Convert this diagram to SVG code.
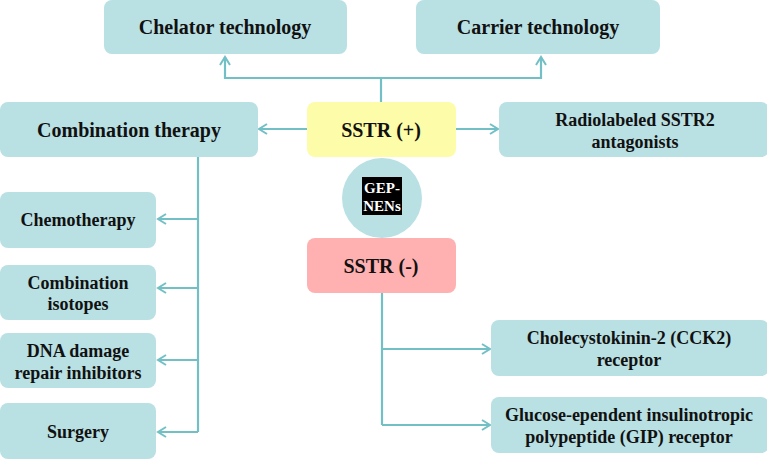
<svg xmlns="http://www.w3.org/2000/svg" width="767" height="459" viewBox="0 0 767 459">
<style>
.box{fill:#b9e0e3;}
.t{font-family:"Liberation Serif","Times New Roman",serif;font-weight:bold;fill:#111;text-anchor:middle;}
.l{font-size:20px;}
.s{font-size:18px;}
.c{fill:none;stroke:#72c0c6;stroke-width:2.2;}
</style>
<defs>
<marker id="a" viewBox="0 0 12 12" refX="10" refY="6" markerWidth="12" markerHeight="12" markerUnits="userSpaceOnUse" orient="auto">
<polyline points="2,1 10,6 2,11" fill="none" stroke="#72c0c6" stroke-width="2"/>
</marker>
</defs>
<rect width="767" height="459" fill="#fff"/>
<g id="connectors">
<polyline class="c" points="381,102 381,78 225,78 225,57" marker-end="url(#a)"/>
<polyline class="c" points="381,78 541,78 541,57" marker-end="url(#a)"/>
<line class="c" x1="307" y1="129" x2="259" y2="129" marker-end="url(#a)"/>
<line class="c" x1="456" y1="129" x2="498" y2="129" marker-end="url(#a)"/>
<line class="c" x1="198" y1="157" x2="198" y2="432"/>
<line class="c" x1="198" y1="219" x2="158" y2="219" marker-end="url(#a)"/>
<line class="c" x1="198" y1="288" x2="158" y2="288" marker-end="url(#a)"/>
<line class="c" x1="198" y1="360" x2="158" y2="360" marker-end="url(#a)"/>
<line class="c" x1="198" y1="432" x2="158" y2="432" marker-end="url(#a)"/>
<line class="c" x1="382" y1="293" x2="382" y2="425"/>
<line class="c" x1="382" y1="349" x2="490" y2="349" marker-end="url(#a)"/>
<line class="c" x1="382" y1="425" x2="490" y2="425" marker-end="url(#a)"/>
</g>
<g id="chelator"><rect class="box" x="104" y="0" width="243" height="54" rx="8"/><text class="t l" x="225" y="34">Chelator technology</text></g>
<g id="carrier"><rect class="box" x="416" y="0" width="244" height="54" rx="8"/><text class="t l" x="538" y="34">Carrier technology</text></g>
<g id="combination"><rect class="box" x="0" y="102" width="258" height="55" rx="8"/><text class="t l" x="129" y="137">Combination therapy</text></g>
<g id="sstr-pos"><rect x="307" y="102" width="149" height="55" rx="8" fill="#fdfca8"/><text class="t l" x="381" y="137">SSTR (+)</text></g>
<g id="radiolabeled"><rect class="box" x="499" y="102" width="270" height="55" rx="8"/><text class="t s" x="635" y="126">Radiolabeled SSTR2</text><text class="t s" x="635" y="148">antagonists</text></g>
<g id="gepnens"><circle cx="382" cy="198" r="40" fill="#b9e0e3"/><rect x="362" y="177" width="40" height="38" fill="#000"/><text class="t" x="382" y="193" style="font-size:15px;fill:#fff">GEP-</text><text class="t" x="382" y="211" style="font-size:15px;fill:#fff">NENs</text></g>
<g id="sstr-neg"><rect x="307" y="238" width="149" height="55" rx="8" fill="#ffb1b1"/><text class="t l" x="381" y="273">SSTR (-)</text></g>
<g id="chemo"><rect class="box" x="0" y="192" width="156" height="56" rx="8"/><text class="t s" x="78" y="226">Chemotherapy</text></g>
<g id="isotopes"><rect class="box" x="0" y="265" width="156" height="55" rx="8"/><text class="t s" x="78" y="289">Combination</text><text class="t s" x="78" y="310">isotopes</text></g>
<g id="dna"><rect class="box" x="0" y="333" width="156" height="55" rx="8"/><text class="t s" x="78" y="357">DNA damage</text><text class="t s" x="78" y="379">repair inhibitors</text></g>
<g id="surgery"><rect class="box" x="0" y="403" width="156" height="56" rx="8"/><text class="t s" x="78" y="438">Surgery</text></g>
<g id="cck2"><rect class="box" x="491" y="320" width="278" height="56" rx="8"/><text class="t s" x="629" y="344">Cholecystokinin-2 (CCK2)</text><text class="t s" x="629" y="366">receptor</text></g>
<g id="gip"><rect class="box" x="491" y="397" width="278" height="56" rx="8"/><text class="t s" x="629" y="421">Glucose-ependent insulinotropic</text><text class="t s" x="629" y="443">polypeptide (GIP) receptor</text></g>
</svg>
